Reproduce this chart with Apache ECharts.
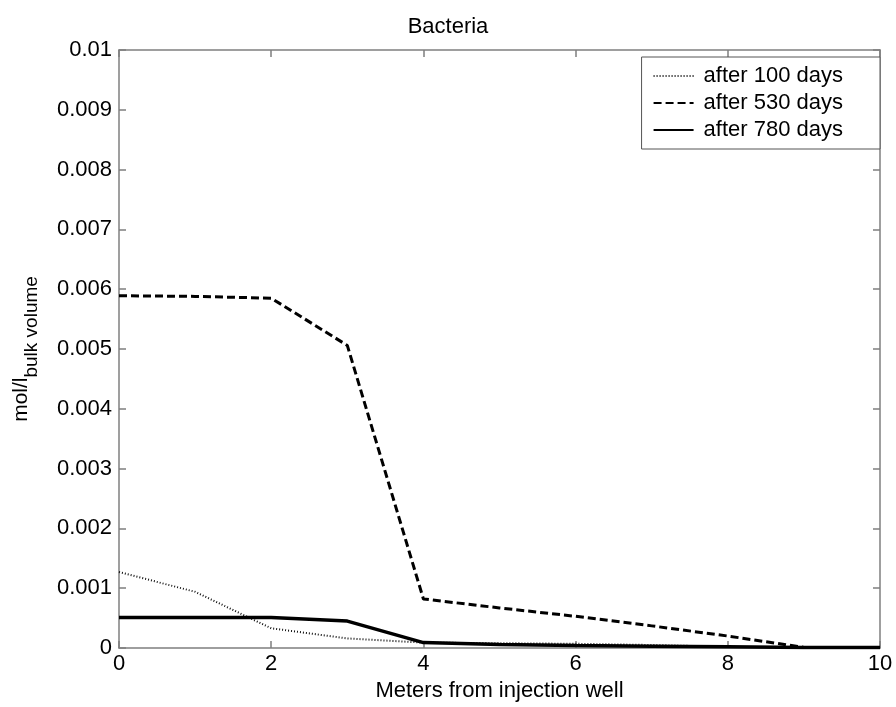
<!DOCTYPE html>
<html>
<head>
<meta charset="utf-8">
<script src="https://cdn.jsdelivr.net/npm/echarts@6/dist/echarts.min.js"></script>
<style>html,body{margin:0;padding:0;background:#fff}#c{width:896px;height:707px}</style>
</head>
<body>
<div id="c"></div>
<script>
const xValues = [0, 1, 2, 3, 4, 5, 6, 7, 8, 9, 10];
const after100 = [0.00127, 0.00094, 0.00033, 0.00016, 0.00009, 0.00008, 0.00007, 0.00005, 0.00002, 0.00001, 0.0];
const after530 = [0.00589, 0.00588, 0.00585, 0.00506, 0.00082, 0.00067, 0.00053, 0.00037, 0.00020, 0.00001, 0.00001];
const after780 = [0.00051, 0.00051, 0.00051, 0.00045, 0.00009, 0.00006, 0.00004, 0.00003, 0.00002, 0.00001, 0.00001];
const seriesNames = ['after 100 days', 'after 530 days', 'after 780 days'];
const titleText = 'Bacteria';
const xName = 'Meters from injection well';

const FONT = '"Liberation Sans", Arial, Helvetica, sans-serif';
const pair = arr => xValues.map((x, i) => [x, arr[i]]);
const frame = '#7f7f7f';

const chart = echarts.init(document.getElementById('c'), null, {renderer: 'canvas'});
const axisCommon = {
  axisLine: {show: true, onZero: false, lineStyle: {color: frame, width: 1.5}},
  axisTick: {show: true, inside: true, length: 7, lineStyle: {color: frame, width: 1.5}},
  splitLine: {show: false}
};
chart.setOption({
  animation: false,
  backgroundColor: '#fff',
  title: {text: titleText, left: 'center', top: 11, textStyle: {fontFamily: FONT, fontSize: 22, fontWeight: 'normal', color: '#000'}},
  grid: {left: 119, top: 50, right: 16, bottom: 59},
  legend: {
    data: seriesNames, orient: 'vertical', right: 16, top: 57,
    backgroundColor: '#fff', borderColor: '#555', borderWidth: 1,
    padding: [8, 37, 8, 11], itemGap: 5, itemWidth: 40, itemHeight: 14,
    itemStyle: {color: 'transparent', borderColor: 'transparent', borderWidth: 0, opacity: 0},
    textStyle: {fontFamily: FONT, fontSize: 22, color: '#000', lineHeight: 22, padding: [0, 0, 0, 5]}
  },
  xAxis: [
    Object.assign({type: 'value', min: 0, max: 10, interval: 2, position: 'bottom',
      name: xName, nameLocation: 'middle', nameGap: 32,
      nameTextStyle: {fontFamily: FONT, fontSize: 22, color: '#000'},
      axisLabel: {fontFamily: FONT, fontSize: 22, color: '#000', margin: 5}}, axisCommon),
    Object.assign({type: 'value', min: 0, max: 10, interval: 2, position: 'top', axisLabel: {show: false}}, axisCommon)
  ],
  yAxis: [
    Object.assign({type: 'value', min: 0, max: 0.01, interval: 0.001, position: 'left',
      name: '{a|mol/l}{b|bulk volume}', nameLocation: 'middle', nameGap: 78,
      nameTextStyle: {rich: {
        a: {fontFamily: FONT, fontSize: 21, color: '#000', verticalAlign: 'top', lineHeight: 30},
        b: {fontFamily: FONT, fontSize: 19, color: '#000', verticalAlign: 'bottom', lineHeight: 30, padding: [10, 0, 0, 0]}
      }},
      axisLabel: {fontFamily: FONT, fontSize: 22, color: '#000', margin: 7,
        formatter: v => String(+v.toFixed(3))}}, axisCommon),
    Object.assign({type: 'value', min: 0, max: 0.01, interval: 0.001, position: 'right', axisLabel: {show: false}}, axisCommon)
  ],
  series: [
    {name: seriesNames[0], type: 'line', data: pair(after100), showSymbol: false, symbol: 'none',
      lineStyle: {color: '#111', width: 2, type: [1, 2]}, itemStyle: {color: '#111'}},
    {name: seriesNames[1], type: 'line', data: pair(after530), showSymbol: false, symbol: 'none',
      lineStyle: {color: '#000', width: 3, type: [8, 4]}, itemStyle: {color: '#000'}},
    {name: seriesNames[2], type: 'line', data: pair(after780), showSymbol: false, symbol: 'none',
      lineStyle: {color: '#000', width: 3.5, type: 'solid'}, itemStyle: {color: '#000'}}
  ]
});
</script>
</body>
</html>
